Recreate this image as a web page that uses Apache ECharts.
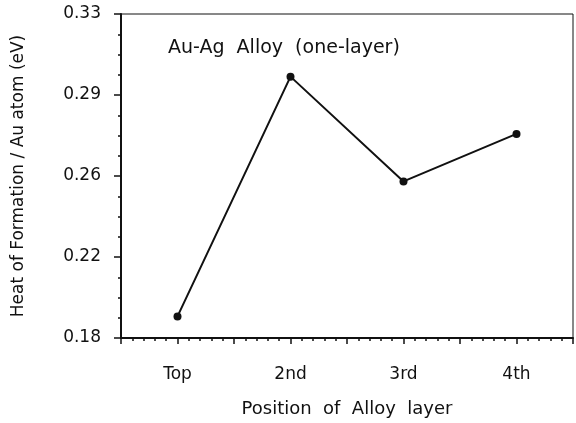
<!DOCTYPE html>
<html>
<head>
    <meta charset="UTF-8">
    <title>Au-Ag Alloy</title>
    <script src="https://cdn.jsdelivr.net/npm/echarts@6/dist/echarts.min.js"></script>
    <style>
        *{padding:0;margin:0}
        body{background:#fff}
        #chart{width:576px;height:423px}
    </style>
</head>
<body>
<div id="chart"></div>
<script>
    // data
    var positions = ['Top', '2nd', '3rd', '4th'];
    var heatValues = [0.190, 0.301, 0.2525, 0.2745];
    var yBase = 0.18;      // bottom of the y axis
    var yTop = 0.33;       // top of the y axis
    var yStep = 0.0375;    // labels 0.18 0.22 0.26 0.29 0.33 are rounded from this

    var font = 'DejaVu Sans';

    // y axis runs from 0, labels add the base back
    var points = heatValues.map(function (v, i) {
        return [i + 1, v - yBase];
    });

    var chart = echarts.init(document.getElementById('chart'));
    chart.setOption({
        animation: false,
        title: {
            text: 'Au-Ag  Alloy  (one-layer)',
            left: 163,
            top: 34,
            textStyle: {fontFamily: font, fontSize: 19, fontWeight: 'normal', color: '#111'}
        },
        grid: {
            left: 121, top: 14, width: 458, height: 326,
            show: true, borderColor: '#111', borderWidth: 1
        },
        xAxis: {
            type: 'value',
            min: 0.5, max: 4.5, interval: 0.5,
            name: 'Position  of  Alloy  layer',
            nameLocation: 'middle',
            nameGap: 62,
            nameTextStyle: {fontFamily: font, fontSize: 18, color: '#111'},
            axisLine: {lineStyle: {color: '#111', width: 2}},
            axisTick: {inside: false, length: 6, lineStyle: {color: '#111', width: 1.5}},
            minorTick: {show: true, splitNumber: 5, length: 3, lineStyle: {color: '#111', width: 1.5}},
            splitLine: {show: false},
            axisLabel: {
                margin: 28,
                fontFamily: font, fontSize: 17, color: '#111',
                formatter: function (v) {
                    return Math.abs(v - Math.round(v)) < 1e-6 ? (positions[Math.round(v) - 1] || '') : '';
                }
            }
        },
        yAxis: {
            type: 'value',
            min: 0, max: yTop - yBase, interval: yStep,
            name: 'Heat of Formation / Au atom (eV)',
            nameLocation: 'middle',
            nameGap: 94,
            nameTextStyle: {fontFamily: font, fontSize: 17, color: '#111'},
            axisLine: {lineStyle: {color: '#111', width: 2}},
            axisTick: {inside: false, length: 7, lineStyle: {color: '#111', width: 1.5}},
            minorTick: {show: true, splitNumber: 4, length: 3, lineStyle: {color: '#111', width: 1.5}},
            splitLine: {show: false},
            axisLabel: {
                margin: 20,
                fontFamily: font, fontSize: 17, color: '#111',
                formatter: function (v) {
                    return (v + yBase + 1e-9).toFixed(2);
                }
            }
        },
        series: [{
            type: 'line',
            data: points,
            symbol: 'circle',
            symbolSize: 8,
            lineStyle: {color: '#111', width: 2},
            itemStyle: {color: '#111'}
        }]
    });
</script>
</body>
</html>
